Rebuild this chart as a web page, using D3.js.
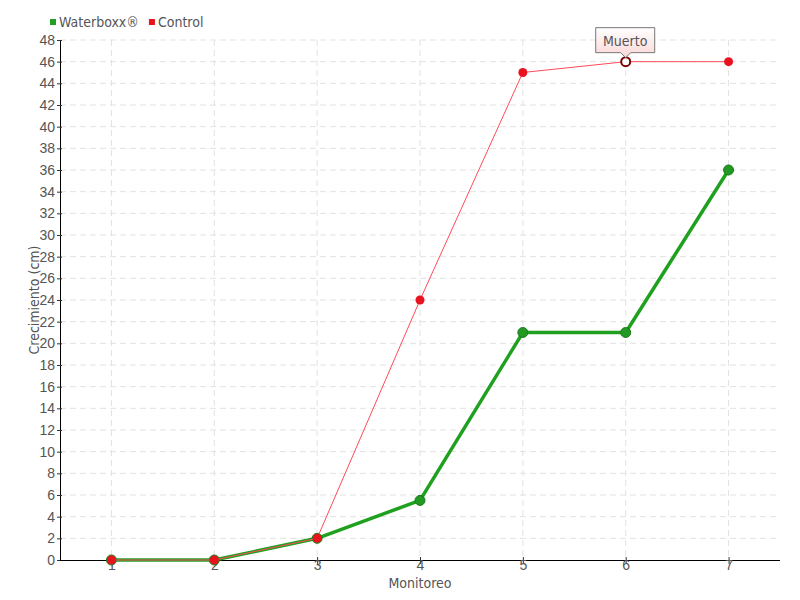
<!DOCTYPE html>
<html><head><meta charset="utf-8">
<script src="https://cdn.jsdelivr.net/npm/d3@7"></script>
<style>
body{margin:0;background:#fff;}
svg{font-family:"DejaVu Sans Condensed","Liberation Sans Narrow",sans-serif;font-stretch:condensed;}
</style></head>
<body><svg id="c" width="800" height="600"></svg>
<script>
const categories = ["1","2","3","4","5","6","7"];
const waterboxx = [0,0,2,5.5,21,21,36];
const control = [0,0,2,24,45,46,46];
const yTicks = d3.range(0,49,2);
const seriesNames = ["Waterboxx®","Control"];
const annotation = {series:"Control", index:5, text:"Muerto"};

const svg = d3.select("#c");
const m = {l:60, r:20, t:40, b:40};
const W = 800, H = 600;
const x = d3.scalePoint().domain(categories).range([m.l, W-m.r]).padding(0.5);
const y = d3.scaleLinear().domain([0,48]).range([H-m.b, m.t]);

const defs = svg.append("defs");
const g1 = defs.append("linearGradient").attr("id","tip").attr("x1",0).attr("y1",0).attr("x2",0).attr("y2",1);
g1.append("stop").attr("offset","0%").attr("stop-color","#ffffff");
g1.append("stop").attr("offset","100%").attr("stop-color","#fbd6d6");

// grid
svg.append("g").selectAll("line").data(yTicks.slice(1)).join("line")
  .attr("x1",m.l).attr("x2",W-m.r).attr("y1",d=>y(d)).attr("y2",d=>y(d))
  .attr("stroke","#e2e2e2").attr("stroke-dasharray","6,4");
svg.append("g").selectAll("line").data(categories).join("line")
  .attr("x1",d=>x(d)).attr("x2",d=>x(d)).attr("y1",m.t).attr("y2",H-m.b)
  .attr("stroke","#e2e2e2").attr("stroke-dasharray","6,4");

// axes
const yAxis = svg.append("g").attr("transform",`translate(${m.l},0)`)
  .call(d3.axisLeft(y).tickValues(yTicks).tickSize(3).tickSizeOuter(0));
yAxis.select(".domain").attr("stroke","#000");
yAxis.selectAll(".tick line").attr("stroke","#333").attr("x2",2).attr("x1",-3);
yAxis.selectAll("text").attr("font-size",14).attr("fill","#555").attr("x",-5);

const xAxis = svg.append("g").attr("transform",`translate(0,${H-m.b})`)
  .call(d3.axisBottom(x).tickSize(4).tickSizeOuter(0));
xAxis.select(".domain").attr("stroke","#000").attr("d",`M${m.l},0.5H${W-m.r}`);
xAxis.selectAll(".tick line").attr("stroke","#333").attr("y1",-3).attr("y2",4);
xAxis.selectAll("text").attr("font-size",14).attr("fill","#555").attr("y",0).attr("dy","0.71em");

svg.append("text").attr("x",(m.l+W-m.r)/2).attr("y",588).attr("text-anchor","middle")
  .attr("font-size",14).attr("fill","#555").text("Monitoreo");
svg.append("text").attr("transform",`translate(39,${(m.t+H-m.b)/2}) rotate(-90)`).attr("text-anchor","middle")
  .attr("font-size",14).attr("fill","#555").text("Crecimiento (cm)");

// lines
const line = d3.line().x((d,i)=>x(categories[i])).y(d=>y(d));
svg.append("path").datum(waterboxx).attr("d",line).attr("fill","none")
  .attr("stroke","#1fa01f").attr("stroke-width",3.5);
svg.append("g").selectAll("circle").data(waterboxx).join("circle")
  .attr("cx",(d,i)=>x(categories[i])).attr("cy",d=>y(d)).attr("r",5)
  .attr("fill","#229922").attr("stroke","#1a7a1a").attr("stroke-width",1);

svg.append("path").datum(control).attr("d",line).attr("fill","none")
  .attr("stroke","#ff4a5a").attr("stroke-width",1);
svg.append("g").selectAll("circle").data(control).join("circle")
  .attr("cx",(d,i)=>x(categories[i])).attr("cy",d=>y(d)).attr("r",4.5)
  .attr("fill",(d,i)=>i===annotation.index?"#fff":"#e8131f")
  .attr("stroke",(d,i)=>i===annotation.index?"#7a0000":"none")
  .attr("stroke-width",(d,i)=>i===annotation.index?2:0);

// annotation tooltip
const ax = x(categories[annotation.index]), ay = y(control[annotation.index]);
const bw = 59, bh = 25, bx = ax - 30, by = ay - 34;
svg.append("path")
  .attr("d",`M${bx},${by}H${bx+bw}V${by+bh}H${ax+5}L${ax},${by+bh+5}L${ax-5},${by+bh}H${bx}Z`)
  .attr("fill","url(#tip)").attr("stroke","#777").attr("stroke-width",1);
svg.append("text").attr("x",bx+bw/2).attr("y",by+18).attr("text-anchor","middle")
  .attr("font-size",14).attr("fill","#555").text(annotation.text);

// legend
const colors = ["#22a022","#e8131f"];
const leg = svg.append("g");
let lx = 50;
seriesNames.forEach((n,i)=>{
  leg.append("rect").attr("x",lx).attr("y",19).attr("width",6).attr("height",6).attr("fill",colors[i]);
  const t = leg.append("text").attr("x",lx+9).attr("y",27).attr("font-size",14).attr("fill","#555").text(n);
  lx += 9 + t.node().getComputedTextLength() + 10;
});
</script></body></html>
